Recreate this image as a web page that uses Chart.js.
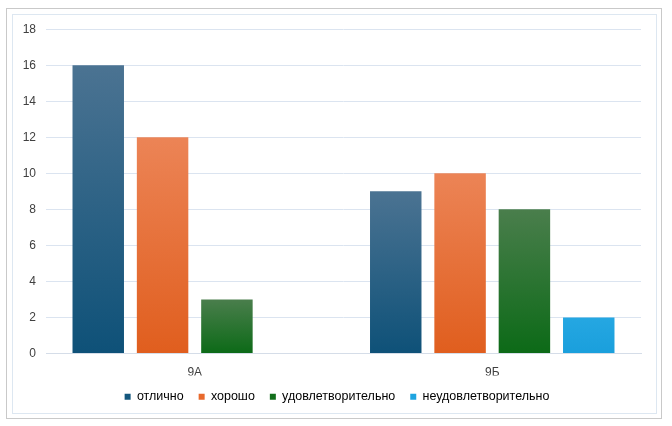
<!DOCTYPE html>
<html><head><meta charset="utf-8">
<script src="https://cdn.jsdelivr.net/npm/chart.js@4.4.0/dist/chart.umd.min.js"></script>
<style>
html,body{margin:0;padding:0;background:#fff;}
#outer{position:absolute;left:6px;top:8px;width:656px;height:411px;border:1px solid #c9c9c9;box-sizing:border-box;}
#inner{position:absolute;left:12px;top:14px;width:645px;height:400px;border:1px solid #dde7f1;box-sizing:border-box;}
#wrap{position:absolute;left:0;top:-3px;width:643px;height:401px;}
</style></head>
<body>
<div id="outer"></div>
<div id="inner"><div id="wrap"><canvas id="c"></canvas></div></div>
<script>
const categories = ['9А', '9Б'];
const seriesNames = ['отлично', 'хорошо', 'удовлетворительно', 'неудовлетворительно'];
const otlichno = [16, 9];
const horosho = [12, 10];
const udovl = [3, 8];
const neudovl = [null, 2];
const yTicks = [0, 2, 4, 6, 8, 10, 12, 14, 16, 18];

const solid = ['#14577d', '#e8692c', '#136f1c', '#1ea4e0'];
const tops = ['#4b7392', '#ec8456', '#4a7e4c', '#25a7e2'];
const bottoms = ['#0e5178', '#e05e1e', '#0c6a17', '#1a9fdc'];

function grad(i) {
  return function(ctx) {
    const chart = ctx.chart;
    if (!chart.chartArea || ctx.parsed == null || ctx.parsed.y == null) return solid[i];
    const y = chart.scales.y;
    const t = y.getPixelForValue(ctx.parsed.y);
    const b = y.getPixelForValue(0);
    if (!isFinite(t) || !isFinite(b) || t === b) return solid[i];
    const g = chart.ctx.createLinearGradient(0, t, 0, b);
    g.addColorStop(0, tops[i]);
    g.addColorStop(1, bottoms[i]);
    return g;
  };
}

const shiftLegend = {
  id: 'shiftLegend',
  afterLayout(chart) {
    if (chart.legend) { chart.legend.left += 10; chart.legend.right += 10; }
  }
};

const data = [otlichno, horosho, udovl, neudovl];
new Chart(document.getElementById('c'), {
  type: 'bar',
  data: {
    labels: categories,
    datasets: data.map((d, i) => ({
      label: seriesNames[i],
      data: d,
      backgroundColor: grad(i),
      borderWidth: 0,
      categoryPercentage: 0.865,
      barPercentage: 0.80
    }))
  },
  plugins: [shiftLegend],
  options: {
    responsive: true,
    maintainAspectRatio: false,
    animation: false,
    layout: { padding: { left: 0, right: 15, top: 0, bottom: 0 } },
    scales: {
      x: {
        grid: { display: false },
        border: { color: '#d5dde8', width: 1 },
        ticks: { color: '#404040', font: { family: 'Liberation Sans, Arial', size: 12 }, padding: 4 },
        afterFit: s => { s.height = 22; }
      },
      y: {
        min: 0, max: 18,
        afterBuildTicks: s => { s.ticks = yTicks.map(v => ({ value: v })); },
        afterFit: s => { s.width = 33; },
        grid: { color: '#dbe4f0', drawTicks: false },
        border: { display: false },
        ticks: { color: '#404040', font: { family: 'Liberation Sans, Arial', size: 12 }, padding: 10 }
      }
    },
    plugins: {
      tooltip: { enabled: false },
      legend: {
        position: 'bottom',
        labels: {
          boxWidth: 6, boxHeight: 6, padding: 15,
          color: '#404040',
          font: { family: 'Liberation Sans, Arial', size: 12.5 },
          generateLabels: chart => seriesNames.map((n, i) => ({
            text: n, fillStyle: solid[i], strokeStyle: solid[i], lineWidth: 0,
            datasetIndex: i, hidden: false
          }))
        }
      }
    }
  }
});
</script>
</body></html>
